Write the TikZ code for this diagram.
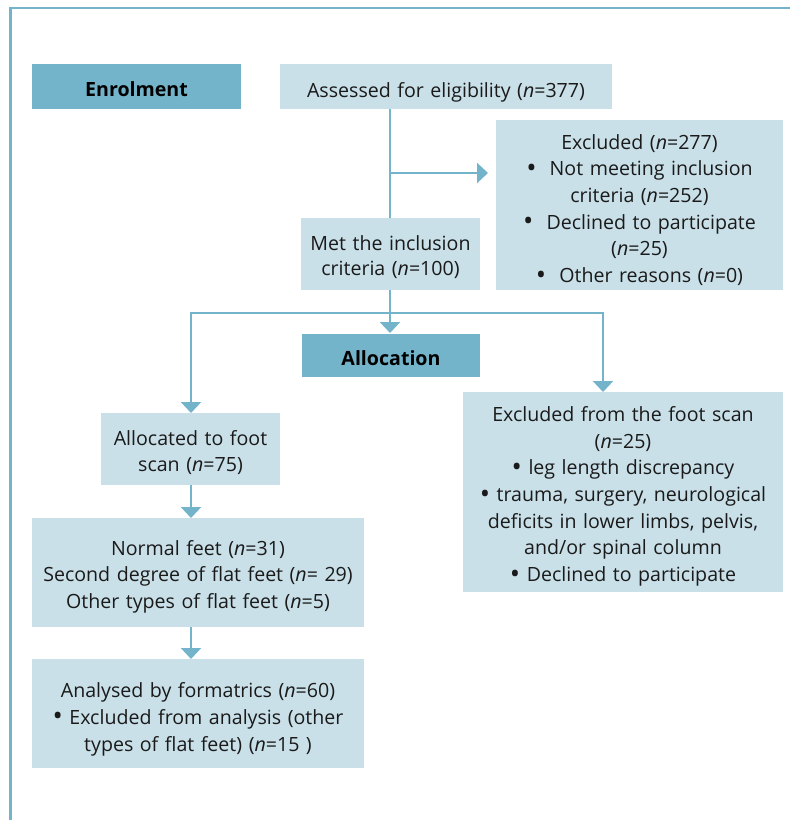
\documentclass[tikz,border=0pt]{standalone}
\usepackage{fontspec}
\setmainfont{Open Sans}
\usetikzlibrary{arrows.meta}
\definecolor{darkbox}{HTML}{74B4CB}
\definecolor{lightbox}{HTML}{C9E0E8}
\definecolor{linecol}{HTML}{74B4CB}
\definecolor{txt}{HTML}{1A1A1A}
\newcommand{\nn}{\textit{n}}
\newcommand{\bul}{\raisebox{-1.8pt}{\scalebox{1.4}{\textbullet}}}
\begin{document}
\begin{tikzpicture}[x=1pt,y=-1pt,
  box/.style={inner sep=0pt, outer sep=0pt},
  lbox/.style={box, fill=lightbox},
  dbox/.style={box, fill=darkbox},
  tx/.style={font=\fontsize{19.6}{26.6}\selectfont, text=txt, align=center,
    inner sep=0pt, anchor=base, text width=#1},
  tx/.default=320pt,
  btx/.style={tx, font=\fontsize{19.6}{26.6}\selectfont\bfseries, text=black},
  conn/.style={draw=linecol, line width=2.5pt},
  arr/.style={conn, -{Triangle[length=11pt,width=20pt]}}]
\useasboundingbox (0,0) rectangle (790,820);
\draw[linecol, line width=2.5pt] (790,8) -- (10.3,8) -- (10.3,820);

% boxes
\node[dbox, minimum width=209pt, minimum height=45pt] (enrol) at (136.5,86.5) {};
\node[lbox, minimum width=332pt, minimum height=45pt] (assess) at (446,86.5) {};
\node[lbox, minimum width=287pt, minimum height=170pt] (excl) at (639.5,205) {};
\node[lbox, minimum width=179pt, minimum height=72pt] (met) at (390.5,254) {};
\node[dbox, minimum width=178pt, minimum height=43pt] (alloc) at (391,355.5) {};
\node[lbox, minimum width=179pt, minimum height=72pt] (afs) at (190.5,449) {};
\node[lbox, minimum width=320pt, minimum height=200pt] (exfs) at (623,492) {};
\node[lbox, minimum width=332pt, minimum height=109pt] (feet) at (198,572.5) {};
\node[lbox, minimum width=332pt, minimum height=109pt] (anal) at (198,713.5) {};

% texts
\node[btx] (enrol-t) at (136.5,96.7) {Enrolment};
\node[tx] (assess-t) at (446,97.3) {Assessed for eligibility (\nn=377)};
\node[tx] (excl-t) at (639.5,149.3) {Excluded (\nn=277)\\
  \bul\ \ Not meeting inclusion\\ criteria (\nn=252)\\
  \bul\ \ Declined to participate\\ (\nn=25)\\
  \bul\ \ Other reasons (\nn=0)};
\node[tx, font=\fontsize{19.6}{25.8}\selectfont] (met-t) at (390.5,250) {Met the inclusion\\criteria (\nn=100)};
\node[btx] (alloc-t) at (391,365) {Allocation};
\node[tx] (afs-t) at (190.5,445) {Allocated to foot\\scan (\nn=75)};
\node[tx] (exfs-t) at (623,421.7) {Excluded from the foot scan\\(\nn=25)\\
  \bul\ leg length discrepancy\\
  \bul\ trauma, surgery, neurological\\deficits in lower limbs, pelvis,\\and/or spinal column\\
  \bul\ Declined to participate};
\node[tx] (feet-t) at (198,555) {Normal feet (\nn=31)\\Second degree of flat feet (\nn= 29)\\Other types of flat feet (\nn=5)};
\node[tx, font=\fontsize{19.6}{27}\selectfont] (anal-t) at (198,697) {Analysed by formatrics (\nn=60)\\\bul\ Excluded from analysis (other\\types of flat feet) (\nn=15 )};

% connectors
\coordinate (b1) at (390,173);
\coordinate (sp) at (390,313);
\coordinate (lt) at (191,313);
\coordinate (rt) at (603,313);

\draw[conn] (assess.south -| b1) -- (b1 |- met.north);
\draw[arr, shorten >=8pt] (b1) -- (b1 -| excl.west);
\draw[arr, shorten >=1pt] (sp |- met.south) -- (sp |- alloc.north);
\draw[arr] (rt) -- (lt) -- (lt |- afs.north);
\draw[arr] (lt) -- (rt) -- (rt |- exfs.north);
\draw[arr] (lt |- afs.south) -- (lt |- feet.north);
\draw[arr] (lt |- feet.south) -- (lt |- anal.north);
\end{tikzpicture}
\end{document}
